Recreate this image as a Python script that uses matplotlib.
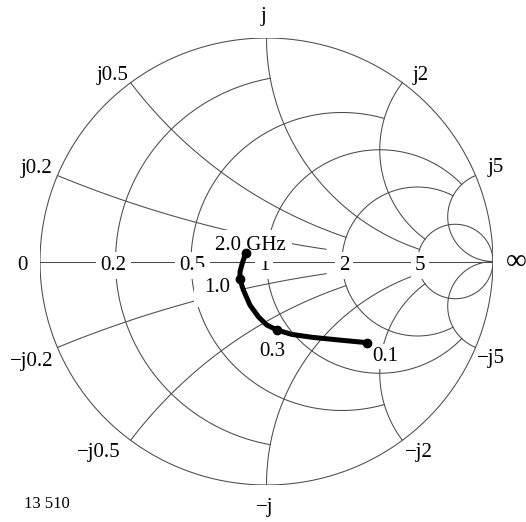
import numpy as np
import matplotlib
matplotlib.use('Agg')
import matplotlib.pyplot as plt

# Smith chart grid: normalised resistance circles and reactance arcs,
# each drawn only up to a limit on the other coordinate
res_values = [0, 0.2, 0.5, 1, 2, 5]
res_xmax = [np.inf, 1, 2, 5, 5, np.inf]
react_values = [0.2, 0.5, 1, 2, 5]
react_rmax = [1.7, 2, 5, 5, np.inf]

# measured S11 trace (reflection coefficient), 0.1 GHz -> 2.0 GHz
trace_re = [0.442, 0.317, 0.200, 0.111, 0.045, 0.001, -0.036,
            -0.073, -0.102, -0.117, -0.117, -0.107, -0.092]
trace_im = [-0.363, -0.351, -0.339, -0.326, -0.306, -0.284, -0.247,
            -0.195, -0.128, -0.080, -0.046, -0.008, 0.037]
marker_freq = ['0.1', '0.3', '1.0', '2.0 GHz']
marker_re = [0.442, 0.045, -0.117, -0.092]
marker_im = [-0.363, -0.306, -0.080, 0.037]

GRID = '#4a4a4a'
FONT = ['Liberation Serif', 'DejaVu Serif']
FS = 15


def gamma(z):
    return (z - 1) / (z + 1)


def res_circle(ax, r, xmax):
    u = np.arctan(xmax)
    x = np.tan(np.linspace(-u, u, 900))
    g = gamma(r + 1j * x)
    ax.plot(g.real, g.imag, color=GRID, lw=0.75, zorder=1)


def react_arc(ax, x, rmax):
    u = np.arctan(rmax)
    r = np.tan(np.linspace(0, u, 600))
    for s in (1, -1):
        g = gamma(r + 1j * s * x)
        ax.plot(g.real, g.imag, color=GRID, lw=0.75, zorder=1)


fig = plt.figure(figsize=(5.26, 5.22), dpi=100)
ax = fig.add_axes([40 / 526, 37 / 522, 453 / 526, 447 / 522])
ax.set_xlim(-1, 1)
ax.set_ylim(-1, 1)
ax.axis('off')

for r, xm in zip(res_values, res_xmax):
    res_circle(ax, r, xm)
for x, rm in zip(react_values, react_rmax):
    react_arc(ax, x, rm)
ax.plot([-1, 1], [0, 0], color=GRID, lw=0.75, zorder=1)

# outer labels
outer = [('j', -0.015, 1.076), ('j0.5', -0.680, 0.812), ('j2', 0.682, 0.812),
         ('j0.2', -1.015, 0.396), ('j5', 1.013, 0.400), ('0', -1.077, -0.038),
         ('\u2212j0.2', -1.037, -0.468), ('\u2212j5', 0.993, -0.454),
         ('\u2212j0.5', -0.740, -0.875), ('\u2212j2', 0.673, -0.875),
         ('\u2212j', -0.007, -1.121)]
for s, tx, ty in outer:
    ax.text(tx, ty, s, ha='center', va='baseline', fontsize=FS, family=FONT)
ax.text(1.102, 0.0, '\u221e', ha='center', va='center', fontsize=21, family=FONT)
ax.text(-0.971, -1.103, '13 510', ha='center', va='baseline', fontsize=12, family=FONT)

# labels on the real axis, knocking out the grid behind them
axis_lab = [('0.2', -0.675), ('0.5', -0.327), ('1', -0.011), ('2', 0.342), ('5', 0.678)]
for s, tx in axis_lab:
    ax.text(tx, -0.038, s, ha='center', va='baseline', fontsize=FS, family=FONT, zorder=3,
            bbox=dict(boxstyle='square,pad=0.2', fc='white', ec='none'))

# frequency labels
freq_pos = [(0.523, -0.445, 0.15), (0.026, -0.423, 0.15), (-0.216, -0.136, 0.5), (-0.073, 0.051, 0.3)]
for s, (tx, ty, pad) in zip(marker_freq, freq_pos):
    ax.text(tx, ty, s, ha='center', va='baseline', fontsize=FS, family=FONT, zorder=3,
            bbox=dict(boxstyle='square,pad=%g' % pad, fc='white', ec='none'))

ax.plot(trace_re, trace_im, color='black', lw=3.6, solid_capstyle='round',
        solid_joinstyle='round', zorder=5)
ax.plot(marker_re, marker_im, 'o', color='black', ms=6, zorder=6)

fig.savefig('out.png', dpi=100)
